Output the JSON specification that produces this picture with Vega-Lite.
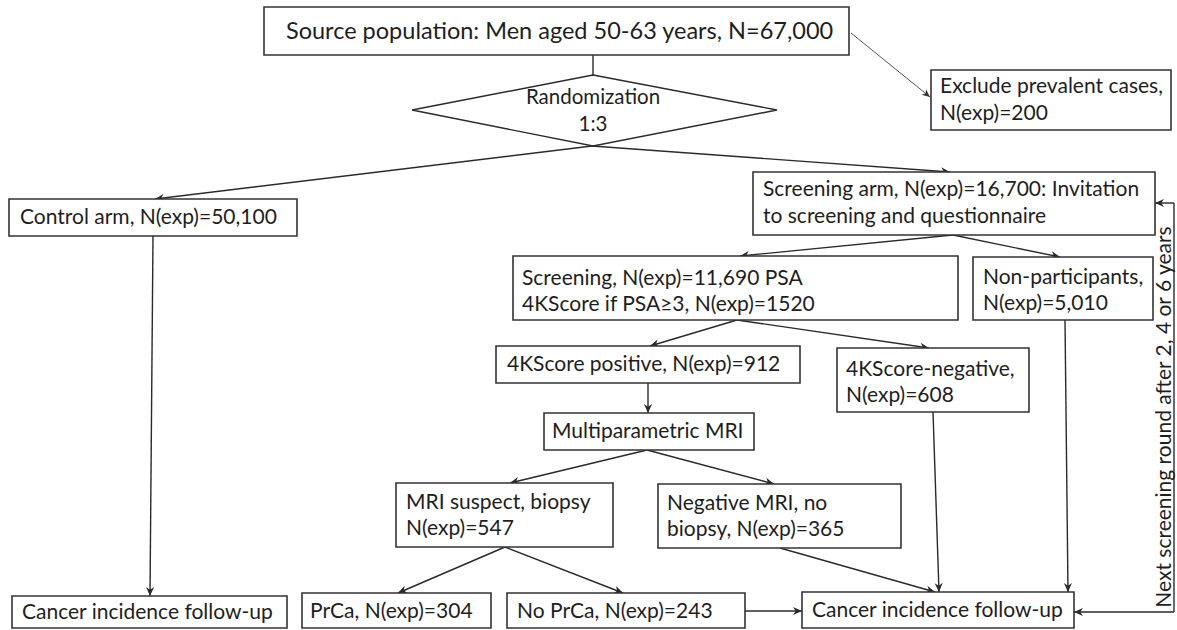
{
  "$schema": "https://vega.github.io/schema/vega-lite/v6.json",
  "width": 1177,
  "height": 630,
  "autosize": "none",
  "padding": 0,
  "background": "white",
  "config": {"view": {"stroke": null}},
  "datasets": {
    "boxes": [
      {"id": "source", "x1": 264, "y1": 7, "x2": 849, "y2": 55},
      {"id": "exclude", "x1": 931, "y1": 70, "x2": 1171, "y2": 130},
      {"id": "control", "x1": 9, "y1": 199, "x2": 297, "y2": 236},
      {"id": "screenArm", "x1": 753, "y1": 172, "x2": 1155, "y2": 235},
      {"id": "screening", "x1": 513, "y1": 256, "x2": 958, "y2": 320},
      {"id": "nonpart", "x1": 973, "y1": 257, "x2": 1153, "y2": 320},
      {"id": "k4pos", "x1": 496, "y1": 346, "x2": 800, "y2": 383},
      {"id": "k4neg", "x1": 837, "y1": 348, "x2": 1029, "y2": 412},
      {"id": "mri", "x1": 544, "y1": 413, "x2": 754, "y2": 450},
      {"id": "mriSusp", "x1": 396, "y1": 483, "x2": 613, "y2": 547},
      {"id": "negMri", "x1": 658, "y1": 484, "x2": 901, "y2": 548},
      {"id": "prca", "x1": 302, "y1": 593, "x2": 491, "y2": 628},
      {"id": "noprca", "x1": 507, "y1": 593, "x2": 745, "y2": 628},
      {"id": "cancerR", "x1": 802, "y1": 592, "x2": 1074, "y2": 628},
      {"id": "cancerL", "x1": 12, "y1": 596, "x2": 287, "y2": 628}
    ],
    "diamond": [
      {"o": 0, "x": 593, "y": 75},
      {"o": 1, "x": 777, "y": 110},
      {"o": 2, "x": 593, "y": 146},
      {"o": 3, "x": 412, "y": 110},
      {"o": 4, "x": 593, "y": 75}
    ],
    "links": [
      {"x1": 592, "y1": 146, "x2": 155, "y2": 199, "arrow": true},
      {"x1": 592, "y1": 146, "x2": 950, "y2": 172, "arrow": true},
      {"x1": 953, "y1": 235, "x2": 740, "y2": 256, "arrow": true},
      {"x1": 953, "y1": 235, "x2": 1060, "y2": 257, "arrow": true},
      {"x1": 737, "y1": 320, "x2": 650, "y2": 346, "arrow": true},
      {"x1": 737, "y1": 320, "x2": 929, "y2": 348, "arrow": true},
      {"x1": 648, "y1": 383, "x2": 648, "y2": 413, "arrow": true},
      {"x1": 647, "y1": 450, "x2": 510, "y2": 483, "arrow": true},
      {"x1": 647, "y1": 450, "x2": 774, "y2": 484, "arrow": true},
      {"x1": 505, "y1": 547, "x2": 398, "y2": 593, "arrow": true},
      {"x1": 505, "y1": 547, "x2": 623, "y2": 593, "arrow": true},
      {"x1": 745, "y1": 611, "x2": 802, "y2": 611, "arrow": true},
      {"x1": 780, "y1": 548, "x2": 935, "y2": 592, "arrow": true},
      {"x1": 933, "y1": 412, "x2": 939, "y2": 592, "arrow": true},
      {"x1": 1065, "y1": 320, "x2": 1068, "y2": 592, "arrow": true},
      {"x1": 153, "y1": 236, "x2": 150, "y2": 596, "arrow": true},
      {"x1": 1174, "y1": 612, "x2": 1074, "y2": 612, "arrow": true},
      {"x1": 1174, "y1": 203, "x2": 1155, "y2": 203, "arrow": true},
      {"x1": 1174, "y1": 612, "x2": 1174, "y2": 203, "arrow": false},
      {"x1": 593, "y1": 55, "x2": 593, "y2": 75, "arrow": false}
    ],
    "thin": [
      {"x1": 851, "y1": 33, "x2": 930, "y2": 97}
    ],
    "texts": [
      {"x": 940, "y": 87, "label": "Exclude prevalent cases,"},
      {"x": 940, "y": 114, "label": "N(exp)=200"},
      {"x": 20, "y": 218, "label": "Control arm, N(exp)=50,100"},
      {"x": 763, "y": 190, "label": "Screening arm, N(exp)=16,700: Invitation"},
      {"x": 763, "y": 217, "label": "to screening and questionnaire"},
      {"x": 522, "y": 279, "label": "Screening, N(exp)=11,690 PSA"},
      {"x": 522, "y": 305, "label": "4KScore if PSA≥3, N(exp)=1520"},
      {"x": 983, "y": 278, "label": "Non-participants,"},
      {"x": 983, "y": 304, "label": "N(exp)=5,010"},
      {"x": 507, "y": 365, "label": "4KScore positive, N(exp)=912"},
      {"x": 846, "y": 370, "label": "4KScore-negative,"},
      {"x": 846, "y": 396, "label": "N(exp)=608"},
      {"x": 552, "y": 432, "label": "Multiparametric MRI"},
      {"x": 406, "y": 503, "label": "MRI suspect, biopsy"},
      {"x": 406, "y": 529, "label": "N(exp)=547"},
      {"x": 667, "y": 504, "label": "Negative MRI, no"},
      {"x": 667, "y": 530, "label": "biopsy, N(exp)=365"},
      {"x": 310, "y": 612, "label": "PrCa, N(exp)=304"},
      {"x": 517, "y": 612, "label": "No PrCa, N(exp)=243"},
      {"x": 812, "y": 611, "label": "Cancer incidence follow-up"},
      {"x": 22, "y": 613, "label": "Cancer incidence follow-up"}
    ],
    "title": [
      {"x": 286, "y": 32, "label": "Source population: Men aged 50-63 years, N=67,000"}
    ],
    "ctexts": [
      {"x": 593, "y": 98, "label": "Randomization"},
      {"x": 593, "y": 125, "label": "1:3"}
    ],
    "vtext": [
      {"x": 1165, "y": 417, "label": "Next screening round after 2, 4 or 6 years"}
    ]
  },
  "layer": [
    {
      "data": {"name": "links"},
      "mark": {"type": "rule", "color": "#2a2a2a", "strokeWidth": 1.4},
      "encoding": {
        "x": {"field": "x1", "type": "quantitative", "scale": {"domain": [0, 1177], "nice": false, "zero": false}, "axis": null},
        "y": {"field": "y1", "type": "quantitative", "scale": {"domain": [0, 630], "nice": false, "zero": false, "reverse": true}, "axis": null},
        "x2": {"field": "x2"},
        "y2": {"field": "y2"}
      }
    },
    {
      "data": {"name": "thin"},
      "mark": {"type": "rule", "color": "#555555", "strokeWidth": 1},
      "encoding": {
        "x": {"field": "x1", "type": "quantitative"},
        "y": {"field": "y1", "type": "quantitative"},
        "x2": {"field": "x2"},
        "y2": {"field": "y2"}
      }
    },
    {
      "data": {"name": "links"},
      "transform": [
        {"filter": "datum.arrow"},
        {"calculate": "atan2(datum.y2 - datum.y1, datum.x2 - datum.x1) * 180 / PI", "as": "ang"}
      ],
      "mark": {"type": "point", "shape": "M0,0L-1,-0.45L-0.7,0L-1,0.45Z", "filled": true, "fill": "#2a2a2a", "strokeWidth": 0, "opacity": 1, "size": 324},
      "encoding": {
        "x": {"field": "x2", "type": "quantitative"},
        "y": {"field": "y2", "type": "quantitative"},
        "angle": {"field": "ang", "type": "quantitative", "scale": null}
      }
    },
    {
      "data": {"name": "thin"},
      "transform": [
        {"calculate": "atan2(datum.y2 - datum.y1, datum.x2 - datum.x1) * 180 / PI", "as": "ang"}
      ],
      "mark": {"type": "point", "shape": "M0,0L-1,-0.45L-0.7,0L-1,0.45Z", "filled": true, "fill": "#333333", "strokeWidth": 0, "opacity": 1, "size": 256},
      "encoding": {
        "x": {"field": "x2", "type": "quantitative"},
        "y": {"field": "y2", "type": "quantitative"},
        "angle": {"field": "ang", "type": "quantitative", "scale": null}
      }
    },
    {
      "data": {"name": "diamond"},
      "mark": {"type": "line", "color": "#2a2a2a", "strokeWidth": 1.4},
      "encoding": {
        "x": {"field": "x", "type": "quantitative"},
        "y": {"field": "y", "type": "quantitative"},
        "order": {"field": "o", "type": "quantitative"}
      }
    },
    {
      "data": {"name": "boxes"},
      "mark": {"type": "rect", "fill": "white", "stroke": "#333333", "strokeWidth": 1.6},
      "encoding": {
        "x": {"field": "x1", "type": "quantitative"},
        "x2": {"field": "x2"},
        "y": {"field": "y1", "type": "quantitative"},
        "y2": {"field": "y2"}
      }
    },
    {
      "data": {"name": "texts"},
      "mark": {"type": "text", "align": "left", "baseline": "middle", "font": "Lato", "fontSize": 21, "color": "#1e1e1e"},
      "encoding": {
        "x": {"field": "x", "type": "quantitative"},
        "y": {"field": "y", "type": "quantitative"},
        "text": {"field": "label"}
      }
    },
    {
      "data": {"name": "title"},
      "mark": {"type": "text", "align": "left", "baseline": "middle", "font": "Lato", "fontSize": 23.5, "color": "#1e1e1e"},
      "encoding": {
        "x": {"field": "x", "type": "quantitative"},
        "y": {"field": "y", "type": "quantitative"},
        "text": {"field": "label"}
      }
    },
    {
      "data": {"name": "ctexts"},
      "mark": {"type": "text", "align": "center", "baseline": "middle", "font": "Lato", "fontSize": 20.5, "color": "#1e1e1e"},
      "encoding": {
        "x": {"field": "x", "type": "quantitative"},
        "y": {"field": "y", "type": "quantitative"},
        "text": {"field": "label"}
      }
    },
    {
      "data": {"name": "vtext"},
      "mark": {"type": "text", "align": "center", "baseline": "middle", "font": "Lato", "fontSize": 21, "angle": 270, "color": "#1e1e1e"},
      "encoding": {
        "x": {"field": "x", "type": "quantitative"},
        "y": {"field": "y", "type": "quantitative"},
        "text": {"field": "label"}
      }
    }
  ]
}
